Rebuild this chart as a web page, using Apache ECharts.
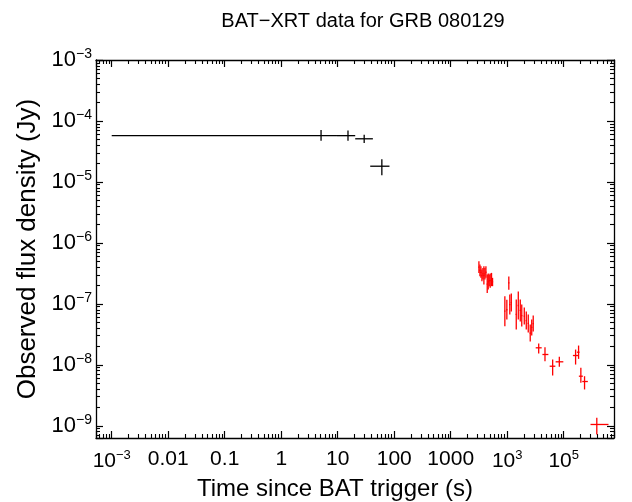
<!DOCTYPE html>
<html>
<head>
<meta charset="utf-8">
<script src="https://cdn.jsdelivr.net/npm/echarts@6/dist/echarts.min.js"></script>
<style>
  html, body { margin: 0; padding: 0; background: #fff; }
  #chart { width: 632px; height: 502px; }
</style>
</head>
<body>
<div id="chart"></div>
<script>
// BAT data (black)
const batTime = [5.07, 15.2, 29.4, 60.4]
const batTimeLo = [0.001, 9.7, 20.4, 37.6]
const batTimeHi = [9.7, 20.4, 41.9, 82.4]
const batFlux = [5.74e-5, 5.74e-5, 5.1e-5, 1.81e-5]
const batFluxLo = [4.75e-5, 4.75e-5, 4.36e-5, 1.29e-5]
const batFluxHi = [7.11e-5, 7.0e-5, 5.96e-5, 2.36e-5]

// XRT data (red)
const xrtTime = [3155, 3289, 3423, 3565, 3715, 3865, 4027, 4197, 4426, 4610, 4800, 5000, 5278, 5500,
  9080, 9850, 10670, 11110, 11810,
  14450, 15700, 17020, 18080,
  20040, 21740, 23560,
  25540, 27150, 28850,
  36060, 46600, 63700, 83600, 162200, 183200, 201000, 233700, 385000]
const xrtTimeLo = [3080, 3210, 3340, 3480, 3625, 3770, 3930, 4095, 4320, 4500, 4685, 4880, 5150, 5370,
  8860, 9610, 10410, 10840, 11520,
  14100, 15320, 16610, 17640,
  19550, 21210, 22990,
  24920, 26490, 28150,
  31920, 41960, 56400, 71900, 145300, 171000, 185300, 212800, 298000]
const xrtTimeHi = [3230, 3370, 3505, 3650, 3805, 3960, 4125, 4300, 4530, 4720, 4915, 5120, 5405, 5630,
  9300, 10090, 10930, 11380, 12100,
  14800, 16090, 17440, 18520,
  20540, 22280, 24150,
  26180, 27830, 29570,
  40740, 53500, 71100, 98400, 180800, 190600, 218100, 267200, 620000]
const xrtFlux = [4.0e-7, 3.55e-7, 3.3e-7, 2.9e-7, 3.1e-7, 2.9e-7, 3.1e-7, 3.3e-7, 2.1e-7, 2.3e-7, 2.4e-7, 2.4e-7, 2.5e-7, 2.3e-7,
  7.6e-8, 8.0e-8, 2.2e-7, 9.7e-8, 1.05e-7,
  6.7e-8, 9.4e-8, 7.8e-8, 6.4e-8,
  6.3e-8, 5.3e-8, 4.8e-8,
  3.3e-8, 4.1e-8, 4.75e-8,
  1.9e-8, 1.476e-8, 9.48e-9, 1.12e-8, 1.42e-8, 1.61e-8, 6.5e-9, 5.32e-9, 1.05e-9]
const xrtFluxLo = [3.22e-7, 2.84e-7, 2.67e-7, 2.35e-7, 2.5e-7, 2.07e-7, 2.5e-7, 2.67e-7, 1.51e-7, 1.72e-7, 1.95e-7, 1.83e-7, 1.95e-7, 1.95e-7,
  4.29e-8, 5.53e-8, 1.71e-7, 6.68e-8, 7.48e-8,
  3.79e-8, 5.53e-8, 5.13e-8, 4.25e-8,
  4.58e-8, 3.79e-8, 3.39e-8,
  2.41e-8, 3.02e-8, 3.52e-8,
  1.53e-8, 1.146e-8, 6.68e-9, 9.27e-9, 1.01e-8, 1.25e-8, 5.07e-9, 3.94e-9, 7.2e-10]
const xrtFluxHi = [5.0e-7, 4.41e-7, 4.14e-7, 3.65e-7, 3.89e-7, 4.14e-7, 3.89e-7, 4.14e-7, 3.02e-7, 3.14e-7, 3.02e-7, 3.14e-7, 3.22e-7, 2.67e-7,
  1.33e-7, 1.17e-7, 2.8e-7, 1.42e-7, 1.48e-7,
  1.175e-7, 1.59e-7, 1.175e-7, 9.74e-8,
  8.7e-8, 7.48e-8, 6.68e-8,
  4.58e-8, 5.53e-8, 6.43e-8,
  2.23e-8, 1.944e-8, 1.22e-8, 1.35e-8, 1.78e-8, 2.07e-8, 8.93e-9, 6.5e-9, 1.35e-9]

// tick labels, one per decade ('^' marks a superscript)
const xTickLabels = ['10^−3', '0.01', '0.1', '1', '10', '100', '1000', '10^3', '10^5'] // 1e-3 .. 1e5
const yTickLabels = ['10^−9', '10^−8', '10^−7', '10^−6', '10^−5', '10^−4', '10^−3'] // 1e-9 .. 1e-3

const FONT = 'Liberation Sans'

const rows = (t, tl, th, f, fl, fh) => t.map((v, i) => [v, tl[i], th[i], f[i], fl[i], fh[i]])

const richLabel = (s) => {
  if (s.indexOf('^') < 0) return '{b|' + s + '}'
  const p = s.split('^')
  return '{b|' + p[0] + '}{s|' + p[1] + '}'
}

const decadeFormatter = (labels, firstExp) => value => {
  const e = Math.round(Math.log10(value))
  if (Math.abs(Math.log10(value) - e) > 0.01) return ''
  const s = labels[e - firstExp]
  return s ? richLabel(s) : ''
}

const makeRich = size => ({
  b: { fontSize: size, fontFamily: FONT, color: '#000' },
  s: { fontSize: Math.round(size * 0.64), fontFamily: FONT, color: '#000', padding: [0, 0, 12, 0] }
})

const errRender = color => (params, api) => {
  const a = api.coord([api.value(1), api.value(3)])
  const b = api.coord([api.value(2), api.value(3)])
  const c = api.coord([api.value(0), api.value(4)])
  const d = api.coord([api.value(0), api.value(5)])
  const style = { stroke: color, lineWidth: 1.3 }
  return {
    type: 'group',
    children: [
      { type: 'line', shape: { x1: a[0], y1: a[1], x2: b[0], y2: b[1] }, style },
      { type: 'line', shape: { x1: c[0], y1: c[1], x2: d[0], y2: d[1] }, style }
    ]
  }
}

const axisBase = (min, max) => ({
  type: 'log',
  logBase: 10,
  min,
  max,
  splitLine: { show: false },
  axisLine: { show: true, lineStyle: { color: '#000', width: 1.3 } },
  axisTick: { show: true, inside: true, length: 7, lineStyle: { color: '#000', width: 1.2 } },
  minorTick: { show: true, splitNumber: 9, length: 4, lineStyle: { color: '#000', width: 1.1 } }
})

const X_MIN = 5.27e-4
const X_MAX = 7.76e5
const Y_MIN = 6.3e-10
const Y_MAX = 1e-3

const myChart = echarts.init(document.getElementById('chart'))
myChart.setOption({
  animation: false,
  backgroundColor: '#fff',
  title: {
    text: 'BAT−XRT data for GRB 080129',
    left: 358,
    top: 6,
    textAlign: 'center',
    textStyle: { fontSize: 20, fontWeight: 'normal', fontFamily: FONT, color: '#000' }
  },
  grid: { left: 96, right: 18, top: 60, bottom: 64, containLabel: false, outerBoundsMode: 'none' },
  xAxis: [
    Object.assign(axisBase(X_MIN, X_MAX), {
      position: 'bottom',
      name: 'Time since BAT trigger (s)',
      nameLocation: 'middle',
      nameGap: 35,
      nameTextStyle: { fontSize: 24, fontFamily: FONT, color: '#000', padding: [0, 40, 0, 0] },
      axisLabel: {
        margin: 11,
        showMinLabel: false,
        showMaxLabel: false,
        formatter: decadeFormatter(xTickLabels, -3),
        rich: makeRich(21)
      }
    }),
    Object.assign(axisBase(X_MIN, X_MAX), {
      position: 'top',
      axisLabel: { show: false }
    })
  ],
  yAxis: [
    Object.assign(axisBase(Y_MIN, Y_MAX), {
      position: 'left',
      name: 'Observed flux density (Jy)',
      nameLocation: 'middle',
      nameGap: 52,
      nameTextStyle: { fontSize: 26, fontFamily: FONT, color: '#000' },
      axisLabel: {
        margin: 4,
        showMinLabel: false,
        showMaxLabel: true,
        formatter: decadeFormatter(yTickLabels, -9),
        rich: makeRich(22)
      }
    }),
    Object.assign(axisBase(Y_MIN, Y_MAX), {
      position: 'right',
      axisLabel: { show: false }
    })
  ],
  series: [
    {
      type: 'custom',
      name: 'BAT',
      xAxisIndex: 0,
      yAxisIndex: 0,
      renderItem: errRender('#000'),
      encode: { x: [0, 1, 2], y: [3, 4, 5] },
      data: rows(batTime, batTimeLo, batTimeHi, batFlux, batFluxLo, batFluxHi)
    },
    {
      type: 'custom',
      name: 'XRT',
      xAxisIndex: 0,
      yAxisIndex: 0,
      renderItem: errRender('#ff0000'),
      encode: { x: [0, 1, 2], y: [3, 4, 5] },
      data: rows(xrtTime, xrtTimeLo, xrtTimeHi, xrtFlux, xrtFluxLo, xrtFluxHi)
    }
  ]
})
</script>
</body>
</html>
